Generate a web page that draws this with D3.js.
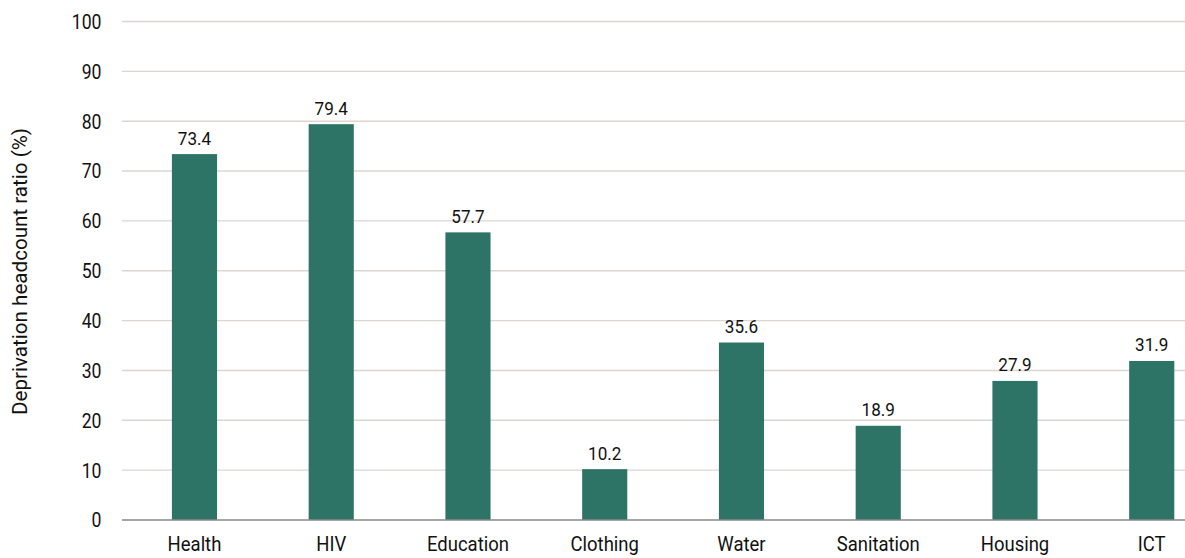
<!DOCTYPE html>
<html>
<head>
<meta charset="utf-8">
<script src="https://cdn.jsdelivr.net/npm/d3@7"></script>
<style>
  body { margin: 0; background: #fff; }
  svg { display: block; }
  text { font-family: "Roboto", "Liberation Sans", sans-serif; fill: #111; }
</style>
</head>
<body>
<svg id="chart" width="1185" height="558"></svg>
<script>
const categories = ["Health", "HIV", "Education", "Clothing", "Water", "Sanitation", "Housing", "ICT"];
const values = [73.4, 79.4, 57.7, 10.2, 35.6, 18.9, 27.9, 31.9];
const yTicks = [0, 10, 20, 30, 40, 50, 60, 70, 80, 90, 100];
const yTitle = "Deprivation headcount ratio (%)";

const svg = d3.select("#chart");
const axisLeft = 122, axisRight = 1185;
const y = d3.scaleLinear().domain([0, 100]).range([520, 21.5]);
const x = d3.scaleBand().domain(categories).range([126.1, 1220.1]).padding(0);
const barW = x.bandwidth() * 0.33;
const sx = 0.86; // condensed look

// gridlines
svg.append("g").selectAll("line").data(yTicks.filter(d => d > 0)).join("line")
  .attr("x1", axisLeft).attr("x2", axisRight)
  .attr("y1", d => y(d)).attr("y2", d => y(d))
  .attr("stroke", "#ddd6d0").attr("stroke-width", 1.4);

// y tick labels
svg.append("g").selectAll("text").data(yTicks).join("text")
  .attr("transform", d => `translate(101.5,${y(d)}) scale(${sx},1)`)
  .attr("dy", "0.36em")
  .attr("text-anchor", "end").attr("font-size", 20.5)
  .text(d => d);

// bars
svg.append("g").selectAll("rect").data(categories).join("rect")
  .attr("x", (d) => x(d) + x.bandwidth() / 2 - barW / 2)
  .attr("width", barW)
  .attr("y", (d, i) => y(values[i]))
  .attr("height", (d, i) => y(0) - y(values[i]))
  .attr("fill", "#2e7466");

// value labels
svg.append("g").selectAll("text").data(categories).join("text")
  .attr("transform", (d, i) => `translate(${x(d) + x.bandwidth() / 2},${y(values[i]) - 9.5}) scale(${sx + 0.04},1)`)
  .attr("text-anchor", "middle").attr("font-size", 19)
  .text((d, i) => values[i].toFixed(1));

// x axis line
svg.append("line").attr("x1", axisLeft).attr("x2", axisRight)
  .attr("y1", y(0)).attr("y2", y(0))
  .attr("stroke", "#888").attr("stroke-width", 1.5);

// category labels
svg.append("g").selectAll("text").data(categories).join("text")
  .attr("transform", d => `translate(${x(d) + x.bandwidth() / 2},550.8) scale(${sx + 0.02},1)`)
  .attr("text-anchor", "middle").attr("font-size", 21)
  .text(d => d);

// y title
svg.append("text")
  .attr("transform", "translate(27,271.5) rotate(-90)")
  .attr("text-anchor", "middle").attr("font-size", 21)
  .attr("textLength", 287).attr("lengthAdjust", "spacingAndGlyphs")
  .text(yTitle);
</script>
</body>
</html>
